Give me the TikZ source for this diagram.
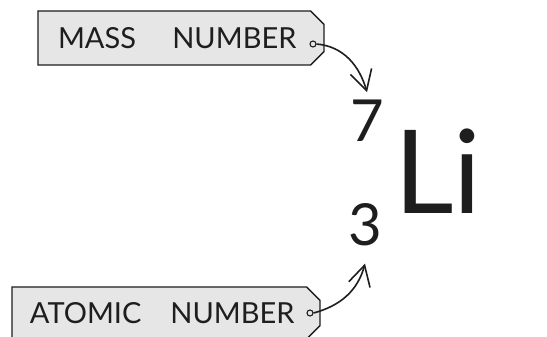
\documentclass[tikz,border=0pt]{standalone}
\usepackage{fontspec}
\setmainfont{Lato}
\usetikzlibrary{arrows.meta,positioning,shapes.misc}
\definecolor{tagfill}{HTML}{E6E6E6}
\definecolor{ink}{HTML}{1E1E1E}
\tikzset{
  tag/.style={chamfered rectangle, chamfered rectangle corners={north east,south east},
              chamfered rectangle xsep=10pt, draw=ink, fill=tagfill, line width=1.4pt,
              minimum height=54pt, inner xsep=10pt, text width=246pt, align=left,
              text=ink, font=\fontsize{29}{30}\selectfont},
  hole/.style={circle, draw=ink, line width=1.1pt, fill=tagfill, inner sep=0pt, minimum size=6pt},
  num/.style={inner sep=0pt, anchor=base, text=ink, font=\fontsize{58}{60}\selectfont},
  arrow/.style={-{Straight Barb[length=20pt,width=22pt]}, line width=1.6pt, ink},
}

\begin{document}
\begin{tikzpicture}[x=1pt, y=-1pt]
  \clip (0,0) rectangle (547,337);
  \fill[white] (0,0) rectangle (547,337);
  % labels
  \node[tag] (mass) at (181,38) {\mbox{MASS\hspace{1.25em}NUMBER}};
  \node[tag, minimum height=52pt, inner xsep=8pt, text width=272pt] (atomic) at (166,313) {\mbox{ATOMIC\quad NUMBER}};
  \node[hole] (mhole) at (313,44) {};
  \node[hole] (ahole) at (310,313) {};
  % nuclide symbol
  \node[num] (seven) at (367,142) {7};
  \node[num] (three) at (365,245) {3};
  \node[num, font=\fontsize{116}{120}\selectfont] (li) at (438,213) {Li};
  % arrows
  \draw[arrow] (mhole.east) to[out=-5, in=106] ([yshift=8pt]seven.north);
  \draw[arrow] (ahole.east) to[out=15, in=-105] ([yshift=-18pt]three.south);
\end{tikzpicture}
\end{document}
